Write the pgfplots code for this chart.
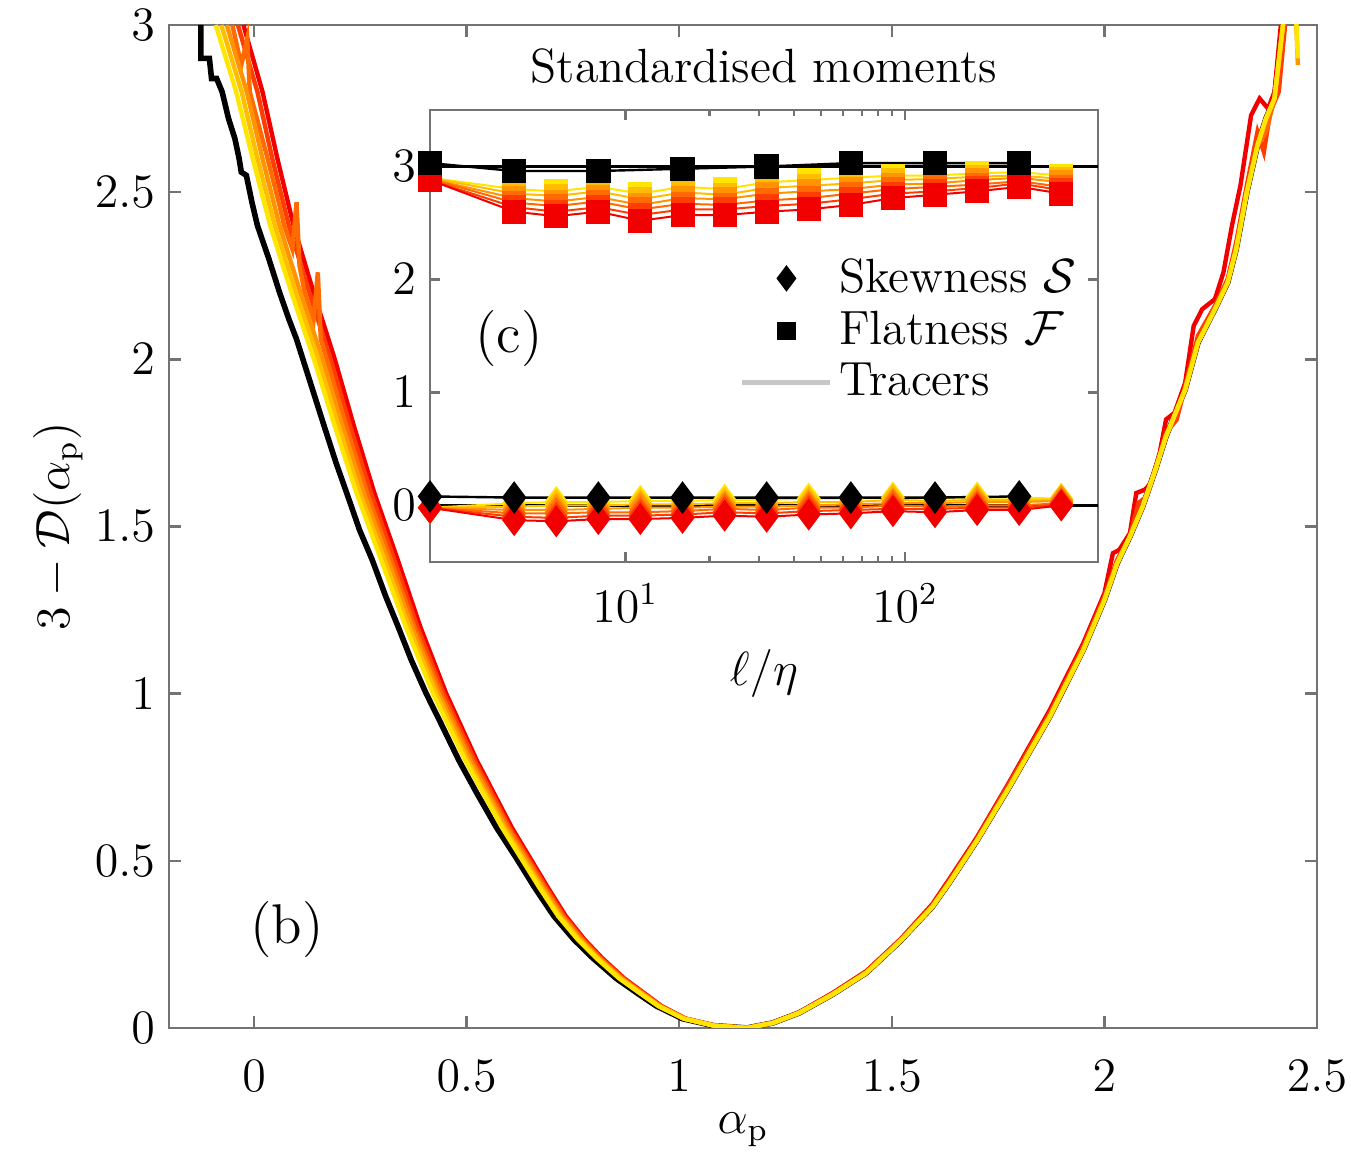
\documentclass[border=0pt]{standalone}
\usepackage{pgfplots}
\usepackage{pgfplotstable}
\pgfplotsset{compat=1.18}

\definecolor{cY}{rgb}{1.0,0.90,0.0}
\definecolor{cB}{rgb}{1.0,0.74,0.0}
\definecolor{cC}{rgb}{1.0,0.58,0.0}
\definecolor{cD}{rgb}{1.0,0.42,0.0}
\definecolor{cE}{rgb}{1.0,0.24,0.0}
\definecolor{cR}{rgb}{0.95,0.0,0.0}
\definecolor{axgray}{rgb}{0.45,0.45,0.45}

\pgfplotstableread{
x      FY   FB   FC   FD   FE   FR    SY    SB    SC    SD    SE    SR
2      2.90 2.90 2.89 2.89 2.88 2.88  -0.02 -0.02 -0.02 -0.02 -0.02 -0.02
4      2.80 2.76 2.72 2.68 2.64 2.60   0.02 -0.01 -0.04 -0.07 -0.10 -0.13
5.66   2.78 2.74 2.69 2.65 2.60 2.56   0.03  0.00 -0.04 -0.07 -0.11 -0.14
8      2.82 2.78 2.73 2.69 2.64 2.60   0.03  0.00 -0.03 -0.06 -0.09 -0.12
11.31  2.76 2.71 2.66 2.62 2.57 2.52   0.04  0.01 -0.02 -0.06 -0.09 -0.12
16     2.82 2.77 2.72 2.67 2.62 2.57   0.04  0.01 -0.02 -0.05 -0.08 -0.11
22.63  2.80 2.75 2.71 2.66 2.62 2.57   0.05  0.02 -0.01 -0.03 -0.06 -0.09
32     2.86 2.81 2.76 2.70 2.65 2.60   0.05  0.02 -0.01 -0.04 -0.07 -0.10
45.25  2.88 2.83 2.78 2.72 2.67 2.62   0.06  0.03  0.00 -0.02 -0.05 -0.08
64     2.90 2.85 2.80 2.76 2.71 2.66   0.06  0.03  0.01 -0.02 -0.04 -0.07
90.51  2.92 2.88 2.84 2.80 2.76 2.72   0.07  0.05  0.02  0.00 -0.03 -0.05
128    2.92 2.89 2.85 2.82 2.78 2.75   0.07  0.04  0.02 -0.01 -0.03 -0.06
181.02 2.94 2.91 2.88 2.84 2.81 2.78   0.07  0.05  0.03  0.00 -0.02 -0.04
256    2.95 2.92 2.90 2.87 2.85 2.82   0.07  0.05  0.03  0.00 -0.02 -0.04
362.04 2.92 2.89 2.86 2.82 2.79 2.76   0.06  0.05  0.04  0.02  0.01  0.00
}\colored

\pgfplotstableread{
x    F    S
2    3.03 0.08
4    2.96 0.07
8    2.96 0.07
16   2.98 0.07
32   3.00 0.07
64   3.03 0.07
128  3.03 0.07
256  3.03 0.08
}\blackdata

\pgfplotsset{
  every axis/.append style={font=\fontsize{12}{14}\selectfont},
  myaxis/.style={
    scale only axis,
    axis line style={axgray, line width=0.6pt},
    tick style={axgray, line width=0.6pt},
    tick align=inside,
    major tick length=3pt,
    minor tick length=1.8pt,
  },
}

\begin{document}
\begin{tikzpicture}
% ---------------- main panel (b) ----------------
\begin{axis}[myaxis,
  at={(0pt,0pt)}, anchor=south west,
  width=287pt, height=250.75pt,
  xmin=-0.2, xmax=2.5, ymin=0, ymax=3,
  xtick={0,0.5,1,1.5,2,2.5},
  ytick={0,0.5,1,1.5,2,2.5,3},
  xlabel={$\alpha_{\mathrm{p}}$},
  ylabel={$3-\mathcal{D}(\alpha_{\mathrm{p}})$},
  xticklabel style={yshift=-4.5pt},
  xlabel style={yshift=1.5pt},
  ylabel style={yshift=-3.8pt},
]
% black curve
\addplot[black, line width=1.4pt] coordinates {
(-0.125,3.00) (-0.125,2.90) (-0.105,2.90) (-0.100,2.84) (-0.088,2.84) (-0.075,2.80)
(-0.060,2.72) (-0.045,2.66) (-0.035,2.60) (-0.030,2.56) (-0.018,2.55) (-0.005,2.47)
(0.008,2.40) (0.035,2.30) (0.060,2.20) (0.082,2.12) (0.100,2.06) (0.115,2.00)
(0.140,1.90) (0.165,1.80) (0.193,1.69) (0.218,1.60) (0.248,1.49) (0.278,1.40)
(0.310,1.29) (0.339,1.20) (0.370,1.10) (0.405,1.00) (0.440,0.91) (0.482,0.80)
(0.525,0.70) (0.570,0.60) (0.616,0.51) (0.660,0.42) (0.705,0.335) (0.752,0.265)
(0.796,0.21) (0.852,0.148) (0.906,0.10) (0.946,0.066) (1.007,0.028) (1.08,0.007) (1.16,0.0)
(1.22,0.015) (1.282,0.045) (1.36,0.10) (1.44,0.165) (1.52,0.26) (1.595,0.362) (1.635,0.434)
(1.70,0.56) (1.776,0.72) (1.871,0.93) (1.95,1.13) (2.00,1.28) (2.03,1.39)
(2.06,1.47) (2.09,1.56) (2.12,1.67) (2.145,1.77) (2.19,1.91) (2.22,2.05)
(2.26,2.15) (2.29,2.23) (2.31,2.33) (2.335,2.50) (2.36,2.64) (2.38,2.72)
(2.40,2.78) (2.42,3.00)
};
% red
\addplot[cR, line width=1.1pt] coordinates {
(-0.025,3.00) (0.020,2.80) (0.055,2.60) (0.093,2.40) (0.140,2.20) (0.190,2.00)
(0.235,1.80) (0.283,1.60) (0.338,1.40) (0.391,1.20) (0.452,1.00) (0.524,0.80)
(0.606,0.60) (0.691,0.42) (0.733,0.335) (0.777,0.265) (0.818,0.21) (0.871,0.148)
(0.922,0.10) (0.958,0.066) (1.015,0.028) (1.084,0.007) (1.16,0.0)
(1.22,0.016) (1.282,0.047) (1.36,0.104) (1.44,0.17) (1.52,0.265) (1.595,0.37) (1.635,0.445)
(1.70,0.57) (1.776,0.735) (1.871,0.95) (1.95,1.15) (2.00,1.30) (2.02,1.42)
(2.035,1.43) (2.06,1.48) (2.075,1.60) (2.095,1.61) (2.11,1.63) (2.13,1.72)
(2.145,1.82) (2.165,1.84) (2.19,1.93) (2.21,2.10) (2.23,2.15) (2.26,2.18)
(2.28,2.26) (2.30,2.40) (2.32,2.52) (2.345,2.73) (2.365,2.78) (2.385,2.75)
(2.40,2.80) (2.415,3.00)
};
% orange-red
\addplot[cE, line width=1.1pt] coordinates {
(-0.038,3.00) (0.008,2.80) (0.043,2.60) (0.082,2.40) (0.130,2.20) (0.180,2.00)
(0.226,1.80) (0.275,1.60) (0.330,1.40) (0.384,1.20) (0.446,1.00) (0.519,0.80)
(0.601,0.60) (0.687,0.42) (0.729,0.335) (0.774,0.265) (0.815,0.21) (0.869,0.148)
(0.920,0.10) (0.956,0.066) (1.014,0.028) (1.083,0.007) (1.16,0.0)
(1.22,0.015) (1.282,0.046) (1.36,0.102) (1.44,0.168) (1.52,0.263) (1.595,0.366) (1.635,0.44)
(1.70,0.565) (1.776,0.73) (1.871,0.94) (1.95,1.14) (2.00,1.29) (2.03,1.40)
(2.06,1.47) (2.08,1.57) (2.10,1.59) (2.12,1.67) (2.145,1.78) (2.17,1.82)
(2.19,1.92) (2.22,2.07) (2.26,2.16) (2.29,2.24) (2.31,2.35) (2.335,2.52)
(2.36,2.68) (2.375,2.62) (2.39,2.74) (2.41,2.80) (2.425,3.00)
};
% orange
\addplot[cD, line width=1.1pt] coordinates {
(-0.051,3.00) (-0.030,2.88) (-0.016,2.96) (-0.010,2.80) (0.032,2.60) (0.060,2.46)
(0.071,2.40) (0.090,2.33) (0.100,2.47) (0.107,2.28) (0.119,2.20) (0.140,2.12)
(0.150,2.26) (0.157,2.06) (0.171,2.00) (0.217,1.80) (0.266,1.60) (0.322,1.40)
(0.377,1.20) (0.440,1.00) (0.513,0.80) (0.597,0.60) (0.683,0.42) (0.726,0.335)
(0.771,0.265) (0.812,0.21) (0.866,0.148) (0.918,0.10) (0.955,0.066) (1.013,0.028)
(1.083,0.007) (1.16,0.0)
(1.22,0.015) (1.282,0.045) (1.36,0.10) (1.44,0.165) (1.52,0.26) (1.595,0.362) (1.635,0.434)
(1.70,0.56) (1.776,0.72) (1.871,0.93) (1.95,1.13) (2.00,1.28) (2.03,1.39)
(2.06,1.47) (2.09,1.56) (2.12,1.67) (2.145,1.77) (2.19,1.91) (2.22,2.05)
(2.26,2.15) (2.29,2.23) (2.31,2.33) (2.335,2.50) (2.36,2.64) (2.38,2.68)
(2.40,2.78) (2.42,3.00)
};
% amber
\addplot[cC, line width=1.1pt] coordinates {
(-0.064,3.00) (-0.017,2.80) (0.020,2.60) (0.060,2.40) (0.109,2.20) (0.161,2.00)
(0.208,1.80) (0.258,1.60) (0.315,1.40) (0.371,1.20) (0.434,1.00) (0.508,0.80)
(0.592,0.60) (0.679,0.42) (0.722,0.335) (0.767,0.265) (0.809,0.21) (0.864,0.148)
(0.916,0.10) (0.953,0.066) (1.012,0.028) (1.082,0.007) (1.16,0.0)
(1.22,0.015) (1.282,0.045) (1.36,0.10) (1.44,0.165) (1.52,0.26) (1.595,0.362) (1.635,0.434)
(1.70,0.56) (1.776,0.72) (1.871,0.93) (1.95,1.13) (2.00,1.28) (2.03,1.39)
(2.06,1.47) (2.09,1.56) (2.12,1.67) (2.145,1.77) (2.19,1.91) (2.22,2.05)
(2.26,2.15) (2.29,2.23) (2.31,2.33) (2.335,2.50) (2.36,2.64) (2.38,2.72)
(2.40,2.78) (2.42,3.00) (2.435,3.08) (2.45,3.05) (2.455,2.88)
};
% gold
\addplot[cB, line width=1.1pt] coordinates {
(-0.077,3.00) (-0.029,2.80) (0.008,2.60) (0.049,2.40) (0.098,2.20) (0.151,2.00)
(0.199,1.80) (0.249,1.60) (0.307,1.40) (0.364,1.20) (0.428,1.00) (0.502,0.80)
(0.587,0.60) (0.675,0.42) (0.718,0.335) (0.764,0.265) (0.807,0.21) (0.861,0.148)
(0.914,0.10) (0.952,0.066) (1.011,0.028) (1.082,0.007) (1.16,0.0)
(1.22,0.015) (1.282,0.045) (1.36,0.10) (1.44,0.165) (1.52,0.26) (1.595,0.362) (1.635,0.434)
(1.70,0.56) (1.776,0.72) (1.871,0.93) (1.95,1.13) (2.00,1.28) (2.03,1.39)
(2.06,1.47) (2.09,1.56) (2.12,1.67) (2.145,1.77) (2.19,1.91) (2.22,2.05)
(2.26,2.15) (2.29,2.23) (2.31,2.33) (2.335,2.50) (2.36,2.64) (2.38,2.72)
(2.40,2.78) (2.42,3.00)
};
% yellow
\addplot[cY, line width=1.1pt] coordinates {
(-0.090,3.00) (-0.042,2.80) (-0.003,2.60) (0.038,2.40) (0.088,2.20) (0.141,2.00)
(0.190,1.80) (0.241,1.60) (0.299,1.40) (0.357,1.20) (0.421,1.00) (0.497,0.80)
(0.583,0.60) (0.671,0.42) (0.715,0.335) (0.761,0.265) (0.804,0.21) (0.859,0.148)
(0.912,0.10) (0.950,0.066) (1.010,0.028) (1.081,0.007) (1.16,0.0)
(1.22,0.015) (1.282,0.045) (1.36,0.10) (1.44,0.165) (1.52,0.26) (1.595,0.362) (1.635,0.434)
(1.70,0.56) (1.776,0.72) (1.871,0.93) (1.95,1.13) (2.00,1.28) (2.03,1.39)
(2.06,1.47) (2.09,1.56) (2.12,1.67) (2.145,1.77) (2.19,1.91) (2.22,2.05)
(2.26,2.15) (2.29,2.23) (2.31,2.33) (2.335,2.50) (2.36,2.64) (2.38,2.72)
(2.40,2.78) (2.42,3.00) (2.435,3.08) (2.45,3.05) (2.455,2.90)
};
\node[font=\fontsize{14}{16}\selectfont] at (axis cs:0.078,0.293) {(b)};
\end{axis}

% ---------------- inset (c) ----------------
\begin{axis}[myaxis,
  at={(65.25pt,116.5pt)}, anchor=south west,
  width=167pt, height=113pt,
  axis background/.style={fill=white},
  xmode=log, xmin=2, xmax=490, ymin=-0.5, ymax=3.5,
  xtick={10,100}, ytick={0,1,2,3},
  minor tick length=1.5pt, major tick length=2.5pt,
  xlabel={$\ell/\eta$},
  xticklabel style={yshift=-2pt},
  xlabel style={yshift=0pt},
  title={Standardised moments},
  title style={yshift=-3pt},
  legend style={at={(0.445,0.705)}, anchor=north west, draw=none, fill=none,
    font=\fontsize{12}{14}\selectfont, row sep=0pt,
    nodes={inner sep=1.6pt}},
  legend cell align=left,
  legend image code/.code={\draw[mark repeat=2,mark phase=2,#1] plot coordinates {(0pt,0pt) (11pt,0pt) (22pt,0pt)};},
]
\addlegendimage{only marks, mark=diamond*, black, mark size=3pt}
\addlegendentry{Skewness $\mathcal{S}$}
\addlegendimage{only marks, mark=square*, black, mark size=2.1pt}
\addlegendentry{Flatness $\mathcal{F}$}
\addlegendimage{black!22, line width=1.2pt}
\addlegendentry{Tracers}

\addplot[black, line width=0.6pt, forget plot] coordinates {(2,3) (490,3)};
\addplot[black, line width=0.6pt, forget plot] coordinates {(2,0) (490,0)};

% flatness, tracers
\addplot[cY, line width=0.5pt, mark=square*, mark size=2.75pt, mark options={fill=cY, draw=cY}, forget plot] table[x=x, y=FY] {\colored};
\addplot[cB, line width=0.5pt, mark=square*, mark size=2.75pt, mark options={fill=cB, draw=cB}, forget plot] table[x=x, y=FB] {\colored};
\addplot[cC, line width=0.5pt, mark=square*, mark size=2.75pt, mark options={fill=cC, draw=cC}, forget plot] table[x=x, y=FC] {\colored};
\addplot[cD, line width=0.5pt, mark=square*, mark size=2.75pt, mark options={fill=cD, draw=cD}, forget plot] table[x=x, y=FD] {\colored};
\addplot[cE, line width=0.5pt, mark=square*, mark size=2.75pt, mark options={fill=cE, draw=cE}, forget plot] table[x=x, y=FE] {\colored};
\addplot[cR, line width=0.5pt, mark=square*, mark size=2.75pt, mark options={fill=cR, draw=cR}, forget plot] table[x=x, y=FR] {\colored};
% skewness, tracers
\addplot[cY, line width=0.5pt, mark=diamond*, mark size=3.6pt, mark options={fill=cY, draw=cY}, forget plot] table[x=x, y=SY] {\colored};
\addplot[cB, line width=0.5pt, mark=diamond*, mark size=3.6pt, mark options={fill=cB, draw=cB}, forget plot] table[x=x, y=SB] {\colored};
\addplot[cC, line width=0.5pt, mark=diamond*, mark size=3.6pt, mark options={fill=cC, draw=cC}, forget plot] table[x=x, y=SC] {\colored};
\addplot[cD, line width=0.5pt, mark=diamond*, mark size=3.6pt, mark options={fill=cD, draw=cD}, forget plot] table[x=x, y=SD] {\colored};
\addplot[cE, line width=0.5pt, mark=diamond*, mark size=3.6pt, mark options={fill=cE, draw=cE}, forget plot] table[x=x, y=SE] {\colored};
\addplot[cR, line width=0.5pt, mark=diamond*, mark size=3.6pt, mark options={fill=cR, draw=cR}, forget plot] table[x=x, y=SR] {\colored};
% black (fluid)
\addplot[black, line width=0.6pt, mark=square*, mark size=2.75pt, mark options={fill=black}, forget plot] table[x=x, y=F] {\blackdata};
\addplot[black, line width=0.6pt, mark=diamond*, mark size=3.6pt, mark options={fill=black}, forget plot] table[x=x, y=S] {\blackdata};

\node[font=\fontsize{14}{16}\selectfont] at (axis cs:3.83,1.48) {(c)};
\end{axis}

\pgfresetboundingbox
\path[use as bounding box] (-42.25pt,-33.5pt) rectangle (295.5pt,257pt);
\end{tikzpicture}
\end{document}
